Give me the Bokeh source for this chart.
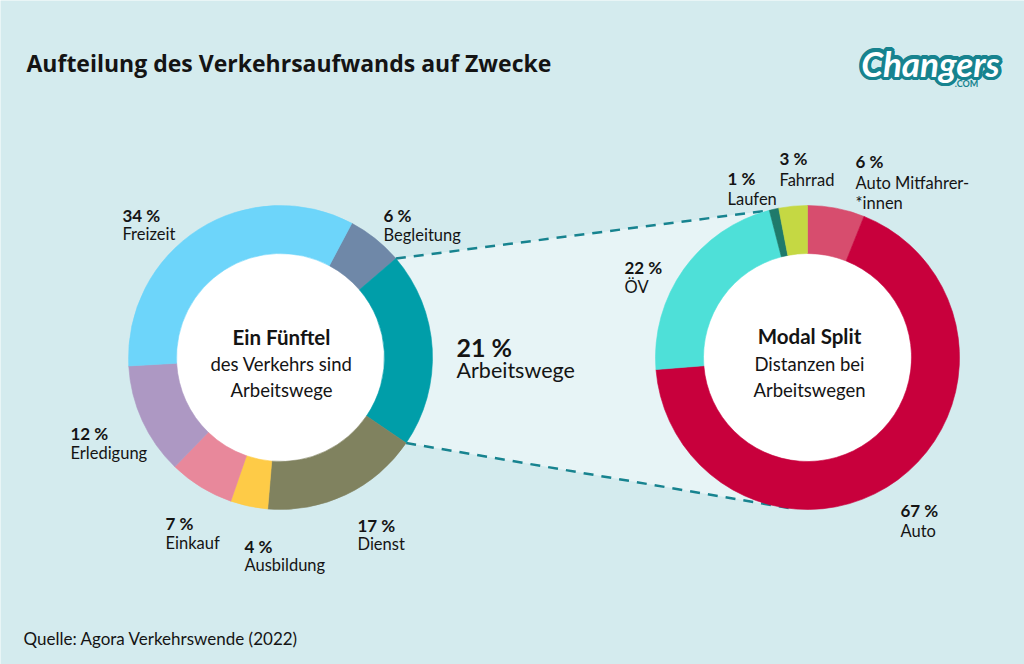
import numpy as np
from bokeh.plotting import figure
from bokeh.models import Range1d
from bokeh.embed import file_html
from bokeh.resources import INLINE
from bokeh.core.properties import value

# ---------------- data ----------------
purpose_labels = ["Begleitung", "Arbeitswege", "Dienst", "Ausbildung", "Einkauf", "Erledigung", "Freizeit"]
purpose_values = [6, 21, 17, 4, 7, 12, 34]
purpose_colors = ["#6f88a8", "#009ea9", "#80825f", "#fecb47", "#e8889b", "#ad98c3", "#6dd5fa"]

mode_labels = [["Auto Mitfahrer-", "*innen"], ["Auto"], ["ÖV"], ["Laufen"], ["Fahrrad"]]
mode_values = [6, 67, 22, 1, 3]
mode_colors = ["#d74d6e", "#c8003c", "#4ee0d8", "#1f7a6b", "#c5d843"]

title = "Aufteilung des Verkehrsaufwands auf Zwecke"
source_note = "Quelle: Agora Verkehrswende (2022)"
left_center = ["Ein Fünftel", "des Verkehrs sind", "Arbeitswege"]
right_center = ["Modal Split", "Distanzen bei", "Arbeitswegen"]

# ---------------- layout ----------------
W, H = 1024, 664
BG = "#d4ebee"
BAND = "#e7f4f6"
DASH = "#17838f"
TXT = "#141414"
FONT = "Lato"
LC = (280, 357)
RC = (807, 357)
R_OUT, R_IN = 152, 104
LEFT_START = 28.0    # degrees clockwise from north
RIGHT_START = 0.0
BOTTOM_RIGHT_ANGLE = 185.0

purpose_pos = [(383, 215, 234), (456, 346, 369), (357, 525, 543), (244, 546, 564),
               (165, 523, 542), (70, 433, 452), (122, 215, 233)]
mode_pos = [(855, 161, 182), (900, 510, 530), (624, 267, 286), (727, 178, 198), (779, 158, 179)]


def Y(y):
    return H - y


p = figure(width=W, height=H, x_range=Range1d(0, W), y_range=Range1d(0, H),
           output_backend="svg", toolbar_location=None, min_border=0)
p.axis.visible = False
p.grid.visible = False
p.outline_line_color = None
p.background_fill_color = BG
p.border_fill_color = BG


def wedge_angles(values, start_deg):
    v = np.array(values, float)
    frac = v / v.sum() * 360.0
    starts = start_deg + np.concatenate([[0.0], np.cumsum(frac)[:-1]])
    return starts, starts + frac


def to_bokeh(deg):
    return np.pi / 2 - np.radians(deg)


def pt(center, r, deg):
    cx, cy = center
    return cx + r * np.sin(np.radians(deg)), Y(cy) + r * np.cos(np.radians(deg))


ls, le = wedge_angles(purpose_values, LEFT_START)
rs, re_ = wedge_angles(mode_values, RIGHT_START)

# connection band
ai = purpose_labels.index("Arbeitswege")
lt = pt(LC, R_OUT, ls[ai])
lb = pt(LC, R_OUT, le[ai])
rt = pt(RC, R_OUT, re_[2])
rb = pt(RC, R_OUT, BOTTOM_RIGHT_ANGLE)
p.patch([lt[0], rt[0], rb[0], lb[0]], [lt[1], rt[1], rb[1], lb[1]], fill_color=BAND, line_color=None)
p.line([lt[0], rt[0]], [lt[1], rt[1]], line_color=DASH, line_width=2.5, line_dash="10 8")
p.line([lb[0], rb[0]], [lb[1], rb[1]], line_color=DASH, line_width=2.5, line_dash="10 8")

# donuts
for c in (LC, RC):
    p.circle(x=[c[0]], y=[Y(c[1])], radius=R_IN + 1, fill_color="white", line_color=None)

p.annular_wedge(x=LC[0], y=Y(LC[1]), inner_radius=R_IN, outer_radius=R_OUT,
                start_angle=to_bokeh(ls), end_angle=to_bokeh(le), direction="clock",
                fill_color=purpose_colors, line_color=purpose_colors, line_width=0.6)
p.annular_wedge(x=RC[0], y=Y(RC[1]), inner_radius=R_IN, outer_radius=R_OUT,
                start_angle=to_bokeh(rs), end_angle=to_bokeh(re_), direction="clock",
                fill_color=mode_colors, line_color=mode_colors, line_width=0.6)


def txt(x, y, s, size, bold=False, align="left", color=TXT, italic=False, xo=0, yo=0, font=FONT):
    style = "bold" if bold else "normal"
    if italic:
        style = "bold italic" if bold else "italic"
    p.text(x=[x], y=[Y(y)], text=[s], text_font=value(font), text_font_size=f"{size}px",
           text_font_style=style, text_align=align, text_baseline="alphabetic",
           text_color=color, x_offset=xo, y_offset=yo)


# title & source
txt(26, 62, title, 23, bold=True, font="Open Sans")
txt(23, 638, source_note, 17)

# center texts
txt(LC[0] + 1, 336, left_center[0], 20.5, bold=True, align="center")
txt(LC[0] + 1, 363, left_center[1], 18.5, align="center")
txt(LC[0] + 1, 389, left_center[2], 18.5, align="center")
txt(RC[0] + 2, 335, right_center[0], 20.5, bold=True, align="center")
txt(RC[0] + 2, 363, right_center[1], 18.5, align="center")
txt(RC[0] + 2, 389, right_center[2], 18.5, align="center")

# purpose labels
for lab, v, (x, y1, y2) in zip(purpose_labels, purpose_values, purpose_pos):
    big = lab == "Arbeitswege"
    txt(x, y1, f"{v} %", 25 if big else 17, bold=True)
    txt(x, y2, lab, 21.5 if big else 16.5)

# mode labels
for lab, v, (x, y1, y2) in zip(mode_labels, mode_values, mode_pos):
    txt(x, y1, f"{v} %", 17, bold=True)
    for k, line in enumerate(lab):
        txt(x, y2 + 20 * k, line, 16.5)

# logo
LOGO_X, LOGO_Y = 930, 62
for a in np.linspace(0, 2 * np.pi, 16, endpoint=False):
    txt(LOGO_X, LOGO_Y, "Changers", 35, bold=True, italic=True, align="center", color=DASH,
        xo=3.5 * np.cos(a), yo=3.5 * np.sin(a))
txt(LOGO_X, LOGO_Y, "Changers", 35, bold=True, italic=True, align="center", color="white")
txt(966, 83, ".COM", 9, bold=True, align="center", color=DASH)

open("out.html", "w").write(file_html(p, INLINE))
